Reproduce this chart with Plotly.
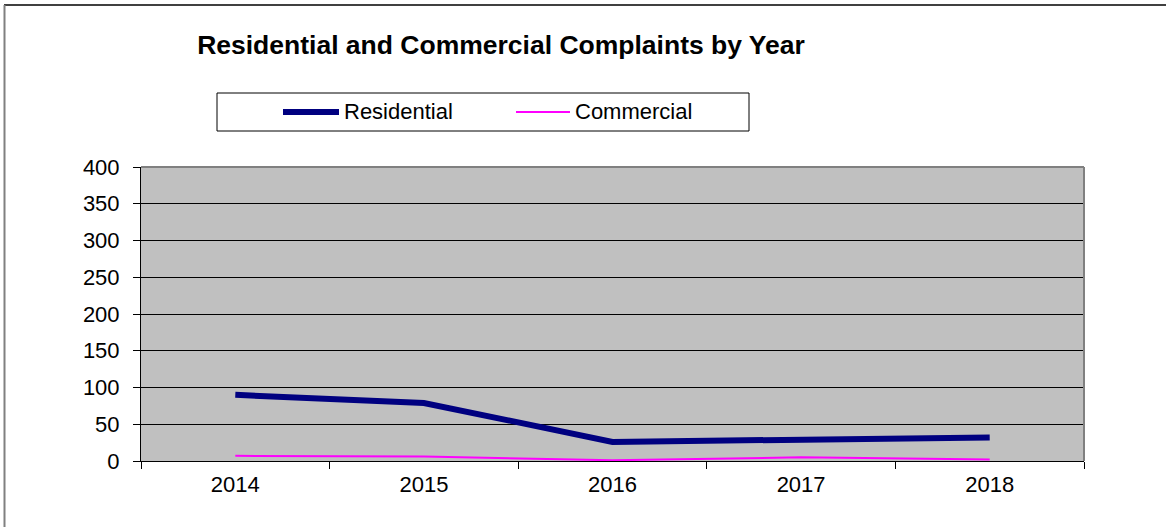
import plotly.graph_objects as go

years = ["2014", "2015", "2016", "2017", "2018"]
residential = [90, 79, 26, 28, 32]
commercial = [7, 6, 1, 5, 2]
y_ticks = [0, 50, 100, 150, 200, 250, 300, 350, 400]
series_names = ["Residential", "Commercial"]
series_colors = ["#000080", "#FF00FF"]
series_widths = [6, 2]

W, H = 1166, 527
L, R, T, B = 141, 1084, 167, 461

def px(x):
    return (x - L) / (R - L)

def py(y):
    return (B - y) / (B - T)

fig = go.Figure()
for name, vals, col, w in zip(series_names, [residential, commercial], series_colors, series_widths):
    fig.add_trace(go.Scatter(x=years, y=vals, mode="lines", name=name,
                             line=dict(color=col, width=w), showlegend=False))

shapes = [
    # plot area top/right border
    dict(type="line", xref="paper", yref="paper", x0=0, x1=1, y0=1, y1=1,
         line=dict(color="#808080", width=2)),
    dict(type="line", xref="paper", yref="paper", x0=1, x1=1, y0=0, y1=1,
         line=dict(color="#808080", width=2)),
    # outer chart border
    dict(type="line", xref="paper", yref="paper", x0=px(4), x1=px(1170), y0=py(5), y1=py(5),
         line=dict(color="black", width=1.5)),
    dict(type="line", xref="paper", yref="paper", x0=px(4.5), x1=px(4.5), y0=py(5), y1=py(530),
         line=dict(color="#808080", width=2)),
    # legend box
    dict(type="rect", xref="paper", yref="paper", x0=px(217), x1=px(749), y0=py(93), y1=py(131),
         line=dict(color="black", width=1), fillcolor="white"),
]
annotations = []
legend_line_x = [(283, 339), (516, 570)]
legend_text_x = [342, 573]
for name, col, w, (lx0, lx1), tx in zip(series_names, series_colors, series_widths, legend_line_x, legend_text_x):
    shapes.append(dict(type="line", xref="paper", yref="paper", x0=px(lx0), x1=px(lx1),
                       y0=py(112), y1=py(112), line=dict(color=col, width=w)))
    annotations.append(dict(text=name, xref="paper", yref="paper", x=px(tx), y=py(112),
                            xanchor="left", yanchor="middle", showarrow=False,
                            font=dict(size=22, color="black")))

fig.update_layout(
    width=W, height=H,
    margin=dict(l=L, r=W - R, t=T, b=H - B, pad=0),
    paper_bgcolor="white",
    plot_bgcolor="#C0C0C0",
    font=dict(family="Liberation Sans, Arial", size=22, color="black"),
    showlegend=False,
    title=dict(text="<b>Residential and Commercial Complaints by Year</b>",
               x=501 / W, xanchor="center", xref="container",
               y=1 - 45 / H, yanchor="middle", yref="container",
               font=dict(size=26.5, family="Liberation Sans, Arial")),
    xaxis=dict(type="category", range=[-0.5, 4.5], tickson="boundaries", ticks="outside",
               ticklen=7, tickcolor="black", showgrid=False, showline=True, linecolor="black",
               linewidth=1, tickfont=dict(size=22), ticklabelstandoff=4, fixedrange=True),
    yaxis=dict(range=[0, 400], tickvals=y_ticks, ticks="outside", ticklen=7,
               tickcolor="black", showgrid=True, gridcolor="black", gridwidth=1,
               showline=True, linecolor="black", linewidth=1, zeroline=False,
               tickfont=dict(size=22), ticklabelstandoff=9, fixedrange=True),
    shapes=shapes,
    annotations=annotations,
)

fig.write_html("out.html", config={"displayModeBar": False},
               post_script="document.body.style.margin='0';")
